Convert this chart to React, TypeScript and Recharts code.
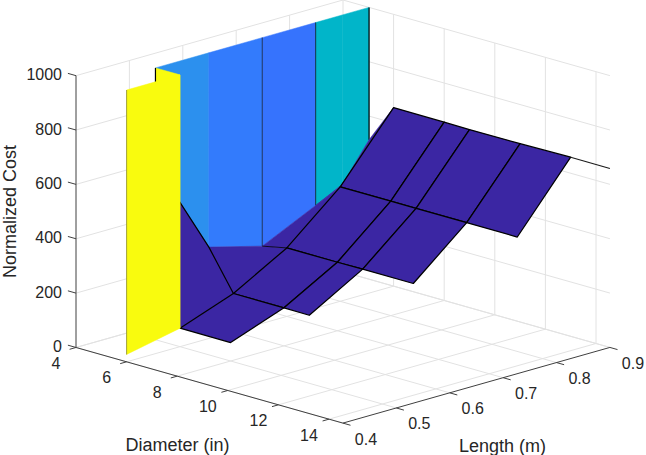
import { Scatter, ScatterChart, XAxis, YAxis } from "recharts";

// Grid of the surface (null = no data)
const diameters = [6, 8, 9, 11, 13];
const lengths = [0.4, 0.5, 0.6, 0.7, 0.8, 0.9];
const costByDiameter = [
  [27, 68, 140, 252, 421, 657],
  [null, 68, 140, 252, 421, 656],
  [null, null, 139, 253, 421, 655],
  [null, null, null, 253, 421, 656],
  [null, null, null, null, 421, 659],
];

// Steep row at diameter 5, it runs off the top of the axes
const steepDiameter = 5.03;
const steepLengths = [0.5, 0.6, 0.7, 0.8, 0.85, 0.9];
const steepCost = [645, 285, 233, 327, 377, 513];
const steepColors = ["#2c90ee", "#337bfc", "#3673fd", "#01b5c9", "#01b5c9"];

const tailDiameter = 14.55;
const tailCost = 658;

const diameterTicks = [4, 6, 8, 10, 12, 14];
const lengthTicks = [0.4, 0.5, 0.6, 0.7, 0.8, 0.9];
const costTicks = [0, 200, 400, 600, 800, 1000];

const D_MIN = 4;
const D_MAX = 14.55;
const L_MIN = 0.4;
const L_MAX = 0.9;
const Z_MAX = 1000;

const PURPLE = "#3b26a3";
const YELLOW = "#f9fb0e";
const GRID = "#e2e2e2";
const AXIS = "#404040";

// Orthographic view of the MATLAB axes
function project(d: number, l: number, z: number) {
  const a = d - D_MIN;
  const b = l - L_MIN;
  return { x: 76 + 25.3 * a + 534 * b, y: 347 + 7.2 * a - 152 * b - 0.273 * z };
}

type P3 = [number, number, number];

function poly(fill: string, stroke: string, width = 1, close = true) {
  return (props: any) => {
    const pts = props.points as { x: number; y: number }[];
    const d = pts.map((p, i) => `${i ? "L" : "M"}${p.x},${p.y}`).join("") + (close ? "Z" : "");
    return <path d={d} fill={fill} stroke={stroke} strokeWidth={width} strokeLinejoin="round" />;
  };
}

const noDot = () => <g />;

function series(pts: P3[], fill: string, stroke: string, width = 1, close = true) {
  return (
    <Scatter
      data={pts.map((p) => project(p[0], p[1], p[2]))}
      dataKey="y"
      line={poly(fill, stroke, width, close)}
      shape={noDot}
      isAnimationActive={false}
    />
  );
}

const textShape = (props: any) => {
  const { label, size, anchor, rotate } = props.payload;
  const x = props.cx;
  const y = props.cy;
  return (
    <text
      x={x}
      y={y}
      fontFamily="'Liberation Sans', Arial, sans-serif"
      fontSize={size}
      fill="#262626"
      textAnchor={anchor}
      dominantBaseline="central"
      transform={rotate ? `rotate(${rotate} ${x} ${y})` : undefined}
    >
      {label}
    </text>
  );
};

function labelAt(label: string, d: number, l: number, z: number, dx: number, dy: number, size = 16, anchor = "middle", rotate = 0) {
  const p = project(d, l, z);
  return { x: p.x + dx, y: p.y + dy, label, size, anchor, rotate };
}

const tickLabels = [
  ...diameterTicks.map((d) => labelAt(String(d), d, L_MIN, 0, -20, 16)),
  ...lengthTicks.map((l) => labelAt(l.toFixed(1), D_MAX, l, 0, 23, 16)),
  ...costTicks.map((z) => labelAt(String(z), D_MIN, L_MIN, z, -14, -1, 16, "end")),
];
const titles = [
  labelAt("Normalized Cost", D_MIN, L_MIN, 500, -66, 0, 18, "middle", -90),
  labelAt("Diameter (in)", 9, L_MIN, 0, -25, 62, 18),
  labelAt("Length (m)", D_MAX, 0.65, 0, 26, 61, 18),
];

function grids() {
  const out: any[] = [];
  const line = (a: P3, b: P3) => out.push(series([a, b], "none", GRID, 1, false));
  for (const d of diameterTicks) {
    line([d, L_MIN, 0], [d, L_MAX, 0]);
    if (d > D_MIN) line([d, L_MAX, 0], [d, L_MAX, Z_MAX]);
  }
  for (const l of lengthTicks) {
    line([D_MIN, l, 0], [D_MAX, l, 0]);
    if (l > L_MIN) line([D_MIN, l, 0], [D_MIN, l, Z_MAX]);
  }
  for (const z of costTicks) {
    line([D_MIN, L_MIN, z], [D_MIN, L_MAX, z]);
    line([D_MIN, L_MAX, z], [D_MAX, L_MAX, z]);
  }
  return out;
}

function axes() {
  const out: any[] = [];
  const line = (a: P3, b: P3) => out.push(series([a, b], "none", AXIS, 1, false));
  line([D_MIN, L_MIN, 0], [D_MIN, L_MIN, Z_MAX]);
  line([D_MIN, L_MIN, 0], [D_MAX, L_MIN, 0]);
  line([D_MAX, L_MIN, 0], [D_MAX, L_MAX, 0]);
  for (const z of costTicks) line([D_MIN, L_MIN, z], [D_MIN - 0.32, L_MIN, z]);
  for (const d of diameterTicks) line([d, L_MIN, 0], [d, L_MIN - 0.012, 0]);
  for (const l of lengthTicks) line([D_MAX, l, 0], [D_MAX + 0.3, l, 0]);
  return out;
}

function surface() {
  const out: any[] = [];
  const n = lengths.length;
  // steep walls at the back
  for (let j = 0; j < steepLengths.length - 1; j++) {
    out.push(
      series(
        [
          [steepDiameter, steepLengths[j], steepCost[j]],
          [steepDiameter, steepLengths[j + 1], steepCost[j + 1]],
          [steepDiameter, steepLengths[j + 1], Z_MAX],
          [steepDiameter, steepLengths[j], Z_MAX],
        ],
        steepColors[j],
        steepColors[j],
        0.5
      )
    );
  }
  const edge = (pts: P3[], color = "#1c2a55", w = 1) => out.push(series(pts, "none", color, w, false));
  edge([[steepDiameter, 0.7, steepCost[2]], [steepDiameter, 0.7, Z_MAX]], "#1f3560", 1);
  edge([[steepDiameter, 0.8, steepCost[3]], [steepDiameter, 0.8, Z_MAX]], "#14304a", 1);
  edge([[steepDiameter, 0.9, steepCost[5]], [steepDiameter, 0.9, Z_MAX]], "#000", 1.2);

  // purple band between diameter 5 and 6, far faces first
  const row6 = costByDiameter[0];
  const stripLengths = [0.9, 0.8, 0.7, 0.6, 0.5];
  out.push(
    series(
      [
        [steepDiameter, 0.8, steepCost[3]],
        [steepDiameter, 0.85, steepCost[4]],
        [steepDiameter, 0.9, steepCost[5]],
        [6, 0.9, row6[5]!],
        [6, 0.8, row6[4]!],
      ],
      PURPLE,
      PURPLE,
      0.5
    )
  );
  for (let k = 1; k < stripLengths.length - 1; k++) {
    const hi = stripLengths[k];
    const lo = stripLengths[k + 1];
    const ih = steepLengths.indexOf(hi);
    const il = steepLengths.indexOf(lo);
    out.push(
      series(
        [
          [steepDiameter, lo, steepCost[il]],
          [steepDiameter, hi, steepCost[ih]],
          [6, hi, row6[lengths.indexOf(hi)]!],
          [6, lo, row6[lengths.indexOf(lo)]!],
        ],
        PURPLE,
        PURPLE,
        0.5
      )
    );
  }
  edge([[steepDiameter, 0.7, steepCost[2]], [6, 0.7, row6[3]!]], "#000", 0.8);
  edge([[steepDiameter, 0.5, steepCost[0]], [steepDiameter, 0.6, steepCost[1]], [6, 0.6, row6[2]!]], "#000", 1.2);

  // mesh, diameter >= 6
  for (let i = 0; i < diameters.length - 1; i++) {
    for (let j = n - 2; j >= 0; j--) {
      const c = [costByDiameter[i][j], costByDiameter[i][j + 1], costByDiameter[i + 1][j + 1], costByDiameter[i + 1][j]];
      if (c.some((v) => v === null)) continue;
      out.push(
        series(
          [
            [diameters[i], lengths[j], c[0]!],
            [diameters[i], lengths[j + 1], c[1]!],
            [diameters[i + 1], lengths[j + 1], c[2]!],
            [diameters[i + 1], lengths[j], c[3]!],
          ],
          PURPLE,
          "#000",
          1.25
        )
      );
    }
  }
  edge([[diameters[4], 0.9, costByDiameter[4][5]!], [tailDiameter, 0.9, tailCost]], "#1a1a1a", 1.1);

  // yellow wall in front
  out.push(
    series(
      [
        [6, 0.5, row6[1]!],
        [6, 0.5, Z_MAX],
        [steepDiameter, 0.5, Z_MAX],
        [steepDiameter, 0.5, 700],
      ],
      YELLOW,
      YELLOW,
      0.5
    )
  );
  edge([[steepDiameter, 0.5, 948], [steepDiameter, 0.5, Z_MAX]], "#000", 1.2);
  out.push(
    series(
      [
        [6, L_MIN, row6[0]!],
        [6, 0.5, row6[1]!],
        [6, 0.5, Z_MAX],
        [6, L_MIN, Z_MAX],
      ],
      YELLOW,
      YELLOW,
      0.5
    )
  );
  edge([[6, L_MIN, row6[0]!], [6, L_MIN, Z_MAX]], "#8a8a3a", 0.8);
  return out;
}

export default function App() {
  return (
    <div style={{ position: "absolute", left: 0, top: 0 }}>
      <ScatterChart width={646} height={455} margin={{ top: 0, right: 0, bottom: 0, left: 0 }}>
        <XAxis type="number" dataKey="x" domain={[0, 646]} hide />
        <YAxis type="number" dataKey="y" domain={[0, 455]} reversed hide />
        {grids()}
        {axes()}
        {surface()}
        <Scatter data={tickLabels} shape={textShape} isAnimationActive={false} />
        <Scatter data={titles} shape={textShape} isAnimationActive={false} />
      </ScatterChart>
    </div>
  );
}
